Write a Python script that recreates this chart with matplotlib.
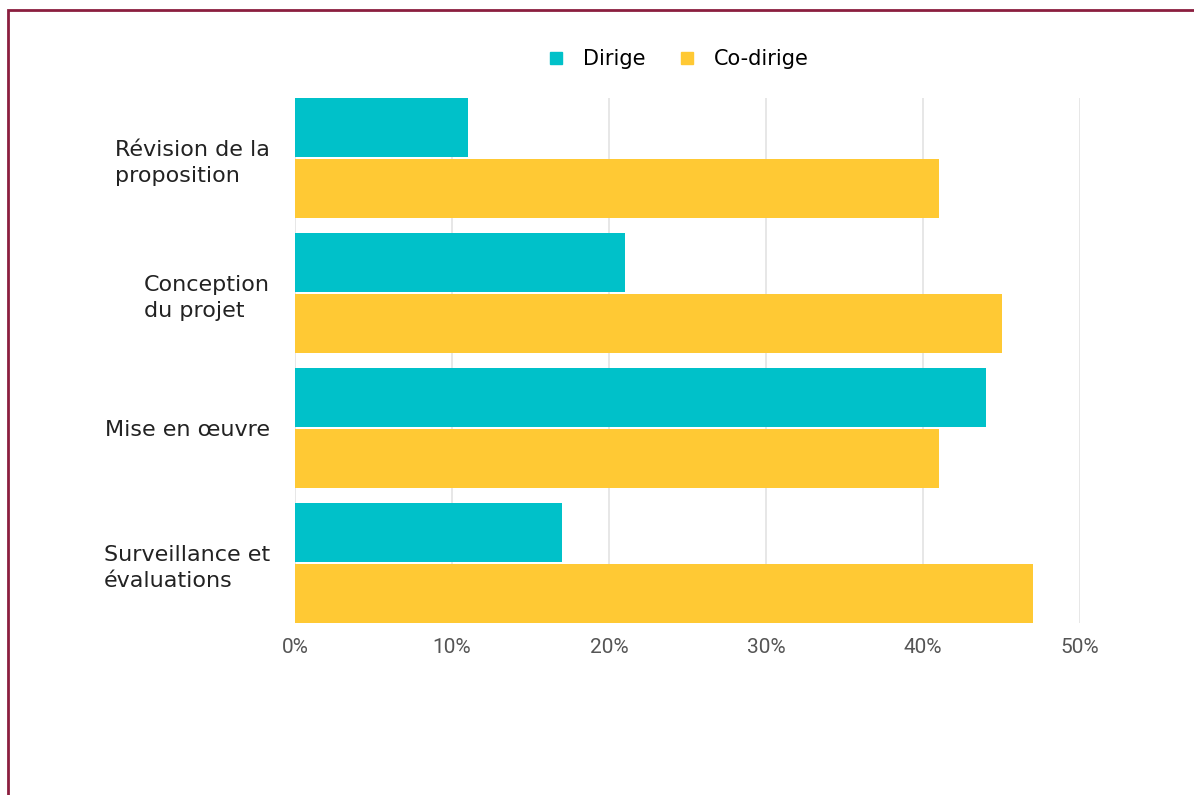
import matplotlib.pyplot as plt
import numpy as np
from matplotlib.patches import Rectangle
from matplotlib.lines import Line2D

# Data
categories = ['Révision de la\nproposition', 'Conception\ndu projet',
              'Mise en œuvre', 'Surveillance et\névaluations']
dirige = [11, 21, 44, 17]
co_dirige = [41, 45, 41, 47]
series_names = ['Dirige', 'Co-dirige']
xticks = [0, 10, 20, 30, 40, 50]
xtick_labels = ['0%', '10%', '20%', '30%', '40%', '50%']

teal = '#00C1C9'
yellow = '#FFC934'

fig = plt.figure(figsize=(11.94, 7.95), dpi=100)
ax = fig.add_axes([295/1194, 1 - 623/795, (1080-295)/1194, (623-98)/795])

y = np.arange(len(categories))
h = 0.437
off = 0.228
ax.barh(y - off, dirige, height=h, color=teal, zorder=3)
ax.barh(y + off, co_dirige, height=h, color=yellow, zorder=3)

ax.set_xlim(0, 50)
ax.set_ylim(3.444, -0.444)
ax.set_xticks(xticks)
ax.set_xticklabels(xtick_labels, fontsize=15, color='#555555', family='Roboto')
ax.set_yticks(y)
ax.set_yticklabels(categories, fontsize=16, color='#222222',
                   family='DejaVu Sans', ha='right', multialignment='left',
                   linespacing=1.35)
ax.tick_params(axis='y', length=0, pad=18)
ax.tick_params(axis='x', length=0, pad=11)
ax.grid(axis='x', color='#e3e3e3', linewidth=1.2, zorder=0)
for s in ax.spines.values():
    s.set_visible(False)

handles = [Line2D([], [], marker='s', linestyle='none', markersize=8, color=c)
           for c in (teal, yellow)]
fig.legend(handles, series_names, loc='center', ncol=2,
           bbox_to_anchor=(672/1194, 1 - 59/795), frameon=False,
           prop={'family': 'DejaVu Sans', 'size': 15},
           handletextpad=0.3, columnspacing=1.0)

# dark red frame around the figure (right/bottom edges fall outside)
fig.patches.append(Rectangle((8/1194, -0.1), 1.2, 1 - 10/795 + 0.1,
                             transform=fig.transFigure, fill=False,
                             edgecolor='#8B1E3F', linewidth=2))

fig.savefig('out.png', dpi=100)
